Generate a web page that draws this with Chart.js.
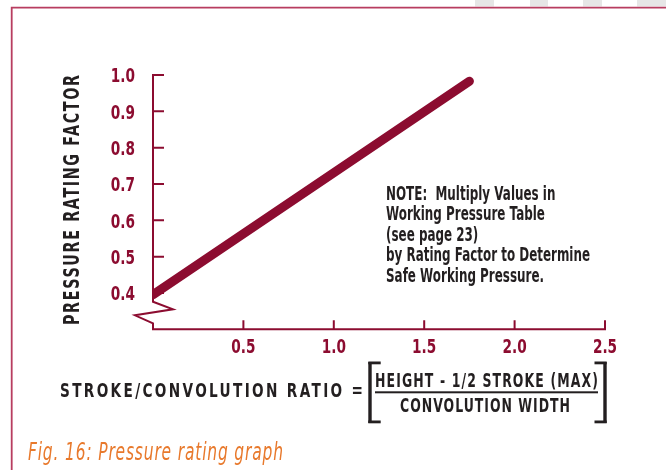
<!DOCTYPE html>
<html><head><meta charset="utf-8">
<script src="https://cdn.jsdelivr.net/npm/chart.js@4.4.1/dist/chart.umd.min.js"></script>
<style>html,body{margin:0;padding:0;background:#fff;overflow:hidden}#wrap{width:666px;height:470px;position:relative}</style>
</head><body><div id="wrap"><canvas id="c" width="666" height="470"></canvas></div>
<script>
// ---- data ----
const ratioX = [0, 1.75];
const ratingY = [0.395, 0.983];
const xTickValues = [0.5, 1.0, 1.5, 2.0, 2.5];
const xTickLabels = ['0.5', '1.0', '1.5', '2.0', '2.5'];
const yTickValues = [0.4, 0.5, 0.6, 0.7, 0.8, 0.9, 1.0];
const yTickLabels = ['0.4', '0.5', '0.6', '0.7', '0.8', '0.9', '1.0'];
const yTitle = 'PRESSURE RATING FACTOR';
const xTitle = 'STROKE/CONVOLUTION RATIO =';
const numerator = 'HEIGHT - 1/2 STROKE (MAX)';
const denominator = 'CONVOLUTION WIDTH';
const noteLines = ['NOTE:  Multiply Values in', 'Working Pressure Table', '(see page 23)', 'by Rating Factor to Determine', 'Safe Working Pressure.'];
const caption = 'Fig. 16: Pressure rating graph';

const MAROON = '#8c0c30';
const DARK = '#231f20';
const ORANGE = '#e8792c';
const FAM = '"DejaVu Sans", sans-serif';

// draw text compressed horizontally by sx, with letter spacing to fill width
function fitText(ctx, text, x, y, width, sx) {
  ctx.letterSpacing = '0px';
  const w = ctx.measureText(text).width;
  const n = [...text].length;
  let ls = (width / sx - w) / (n - 1);
  let s = sx;
  if (ls < 0) { ls = 0; s = width / w; }
  ctx.save();
  ctx.textAlign = 'left';
  ctx.translate(x, y);
  ctx.scale(s, 1);
  ctx.letterSpacing = ls + 'px';
  ctx.fillText(text, 0, 0);
  ctx.restore();
  ctx.letterSpacing = '0px';
}
function squeezeText(ctx, text, x, y, sx, align) {
  const w = ctx.measureText(text).width * sx;
  let left = x;
  if (align === 'right') left = x - w;
  else if (align === 'center') left = x - w / 2;
  ctx.save();
  ctx.textAlign = 'left';
  ctx.translate(left, y);
  ctx.scale(sx, 1);
  ctx.fillText(text, 0, 0);
  ctx.restore();
}

const deco = {
  id: 'deco',
  beforeDatasetsDraw(chart) {
    const ctx = chart.ctx;
    const xs = chart.scales.x, ys = chart.scales.y;
    const x0 = xs.getPixelForValue(0);
    const xEnd = xs.getPixelForValue(2.5);
    const yTop = ys.getPixelForValue(1.0);
    const yBot = ys.getPixelForValue(0.3);
    ctx.save();
    ctx.strokeStyle = MAROON;
    ctx.lineWidth = 2;
    ctx.lineJoin = 'miter';
    ctx.beginPath();
    ctx.moveTo(x0 + 11, yTop);
    ctx.lineTo(x0, yTop);
    ctx.lineTo(x0, yBot - 27.6);
    ctx.lineTo(x0 + 20, yBot - 20);
    ctx.lineTo(x0 - 18, yBot - 14);
    ctx.lineTo(x0, yBot - 6);
    ctx.lineTo(x0, yBot);
    ctx.lineTo(xEnd, yBot);
    ctx.lineTo(xEnd, yBot - 9);
    ctx.stroke();
    ctx.beginPath();
    ys.ticks.forEach(t => {
      if (t.value === 1.0) return;
      const py = ys.getPixelForValue(t.value);
      ctx.moveTo(x0, py); ctx.lineTo(x0 + 11, py);
    });
    xs.ticks.forEach(t => {
      if (t.value === 2.5) return;
      const px = xs.getPixelForValue(t.value);
      ctx.moveTo(px, yBot); ctx.lineTo(px, yBot - 9);
    });
    ctx.stroke();
    // tick labels
    ctx.fillStyle = MAROON;
    ctx.font = 'bold 19.5px ' + FAM;
    ctx.textBaseline = 'alphabetic';
    ys.ticks.forEach((t, i) => {
      squeezeText(ctx, yTickLabels[i], x0 - 18, ys.getPixelForValue(t.value) + 7.4, 0.7, 'right');
    });
    xs.ticks.forEach((t, i) => {
      squeezeText(ctx, xTickLabels[i], xs.getPixelForValue(t.value), yBot + 23.5, 0.7, 'center');
    });
    ctx.restore();
  },
  afterDraw(chart) {
    const ctx = chart.ctx;
    ctx.save();
    // frame
    ctx.fillStyle = '#e6e6e6';
    [[475, 19], [530, 18], [583, 19], [637, 29]].forEach(([x, w]) => ctx.fillRect(x, 0, w, 6.5));
    ctx.strokeStyle = '#b83d60';
    ctx.lineWidth = 1.8;
    ctx.beginPath();
    ctx.moveTo(11.7, 470); ctx.lineTo(11.7, 7.6); ctx.lineTo(666, 7.6);
    ctx.stroke();

    ctx.textBaseline = 'alphabetic';
    ctx.fillStyle = DARK;
    // y title
    ctx.font = 'bold 21px ' + FAM;
    ctx.save();
    ctx.translate(78.5, 325);
    ctx.rotate(-Math.PI / 2);
    fitText(ctx, yTitle, 0, 0, 250, 0.68);
    ctx.restore();
    // x title
    ctx.font = 'bold 19.5px ' + FAM;
    fitText(ctx, xTitle, 60, 397, 303, 0.7);
    fitText(ctx, numerator, 375, 387, 223, 0.64);
    fitText(ctx, denominator, 400, 412, 170, 0.64);
    // fraction line and brackets
    ctx.fillRect(375, 391.3, 223, 2);
    ctx.fillRect(368.3, 362, 3.4, 61);
    ctx.fillRect(368.3, 361.5, 12.4, 2.8);
    ctx.fillRect(368.3, 420.5, 12.4, 2.8);
    ctx.fillRect(603.3, 362, 3.4, 61);
    ctx.fillRect(594.5, 361.5, 12.2, 2.8);
    ctx.fillRect(594.5, 420.5, 12.2, 2.8);
    // note
    ctx.font = 'bold 19px ' + FAM;
    const widest = Math.max(...noteLines.map(t => ctx.measureText(t).width));
    const nsx = 204 / widest;
    noteLines.forEach((t, i) => squeezeText(ctx, t, 386, 200 + i * 20.4, nsx, 'left'));
    // caption
    ctx.fillStyle = ORANGE;
    ctx.font = 'italic 25px ' + FAM;
    fitText(ctx, caption, 28, 460, 255, 0.62);
    ctx.restore();
  }
};

new Chart(document.getElementById('c'), {
  type: 'line',
  data: {
    datasets: [{
      data: ratioX.map((x, i) => ({ x: x, y: ratingY[i] })),
      borderColor: MAROON,
      borderWidth: 9,
      borderCapStyle: 'round',
      pointRadius: 0,
      tension: 0,
      clip: { left: 0, top: false, right: false, bottom: false }
    }]
  },
  options: {
    responsive: false,
    devicePixelRatio: 1,
    animation: false,
    layout: { padding: { top: 75, right: 61, left: 0, bottom: 0 } },
    plugins: { legend: { display: false }, tooltip: { enabled: false } },
    scales: {
      x: {
        type: 'linear', min: 0, max: 2.5,
        afterBuildTicks: s => { s.ticks = xTickValues.map(v => ({ value: v })); },
        afterFit: s => { s.height = 470 - 329.3; },
        ticks: { display: false },
        grid: { display: false, drawTicks: false },
        border: { display: false }
      },
      y: {
        type: 'linear', min: 0.3, max: 1.0,
        afterBuildTicks: s => { s.ticks = yTickValues.map(v => ({ value: v })); },
        afterFit: s => { s.width = 153; },
        ticks: { display: false },
        grid: { display: false, drawTicks: false },
        border: { display: false }
      }
    }
  },
  plugins: [deco]
});
</script></body></html>
